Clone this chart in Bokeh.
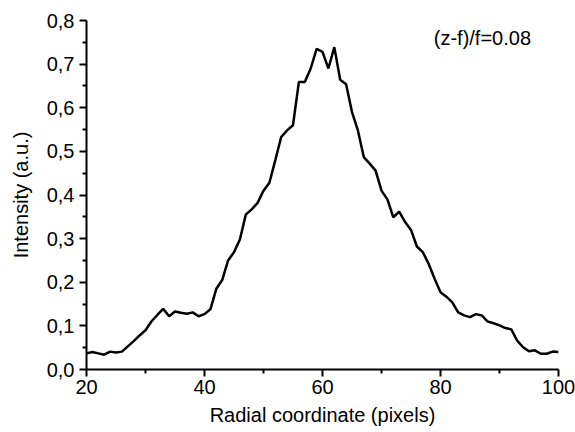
from bokeh.plotting import figure
from bokeh.models import Range1d, FixedTicker, CustomJSTickFormatter, Label
from bokeh.embed import file_html
from bokeh.resources import INLINE

radial = list(range(20, 101))
intensity = [
    0.037, 0.040, 0.037, 0.034, 0.041, 0.039, 0.041, 0.053, 0.065, 0.078,
    0.090, 0.110, 0.125, 0.139, 0.122, 0.133, 0.130, 0.128, 0.131, 0.122,
    0.127, 0.138, 0.185, 0.205, 0.250, 0.269, 0.298, 0.355, 0.367, 0.382,
    0.410, 0.428, 0.480, 0.533, 0.548, 0.560, 0.659, 0.659, 0.690, 0.735,
    0.728, 0.690, 0.739, 0.664, 0.654, 0.590, 0.548, 0.487, 0.472, 0.456,
    0.410, 0.390, 0.349, 0.362, 0.338, 0.320, 0.282, 0.269, 0.242, 0.208,
    0.177, 0.167, 0.154, 0.131, 0.124, 0.120, 0.127, 0.124, 0.110, 0.106,
    0.101, 0.095, 0.092, 0.066, 0.051, 0.042, 0.044, 0.036, 0.036, 0.041,
    0.040,
]
x_ticks = [20, 40, 60, 80, 100]
y_ticks = [0.0, 0.1, 0.2, 0.3, 0.4, 0.5, 0.6, 0.7, 0.8]
annotation = "(z-f)/f=0.08"

FONT = "Liberation Sans"

p = figure(width=575, height=432, output_backend="svg", toolbar_location=None,
           x_range=Range1d(20, 100), y_range=Range1d(0, 0.8),
           min_border_left=86, min_border_right=17, min_border_top=20,
           min_border_bottom=63)
p.outline_line_color = None
p.grid.visible = False
p.background_fill_color = "white"
p.border_fill_color = "white"

p.line(radial, intensity, line_color="black", line_width=2.5)

p.xaxis.ticker = FixedTicker(ticks=x_ticks, minor_ticks=[30, 50, 70, 90])
p.yaxis.ticker = FixedTicker(ticks=y_ticks,
                             minor_ticks=[0.05, 0.15, 0.25, 0.35, 0.45, 0.55, 0.65, 0.75])
p.xaxis.formatter = CustomJSTickFormatter(code="return tick.toFixed(0);")
p.yaxis.formatter = CustomJSTickFormatter(code="return tick.toFixed(1).replace('.', ',');")

for ax in (p.xaxis, p.yaxis):
    ax.axis_line_width = 2
    ax.axis_line_color = "black"
    ax.major_tick_line_width = 2
    ax.minor_tick_line_width = 2
    ax.major_tick_line_color = "black"
    ax.minor_tick_line_color = "black"
    ax.major_tick_out = 7
    ax.major_tick_in = 0
    ax.minor_tick_out = 4
    ax.minor_tick_in = 0
    ax.major_label_text_font = FONT
    ax.major_label_text_font_size = "20px"
    ax.major_label_text_color = "black"
    ax.axis_label_text_font = FONT
    ax.axis_label_text_font_size = "20px"
    ax.axis_label_text_font_style = "normal"
    ax.axis_label_text_color = "black"

p.xaxis.axis_label = "Radial coordinate (pixels)"
p.yaxis.axis_label = "Intensity (a.u.)"
p.xaxis.major_label_standoff = 3
p.yaxis.major_label_standoff = 5
p.xaxis.axis_label_standoff = 7
p.yaxis.axis_label_standoff = 12

p.add_layout(Label(x=87.1, y=0.761, text=annotation, text_font=FONT,
                   text_font_size="20px", text_color="black",
                   text_align="center", text_baseline="middle"))

open("out.html", "w").write(file_html(p, INLINE))
